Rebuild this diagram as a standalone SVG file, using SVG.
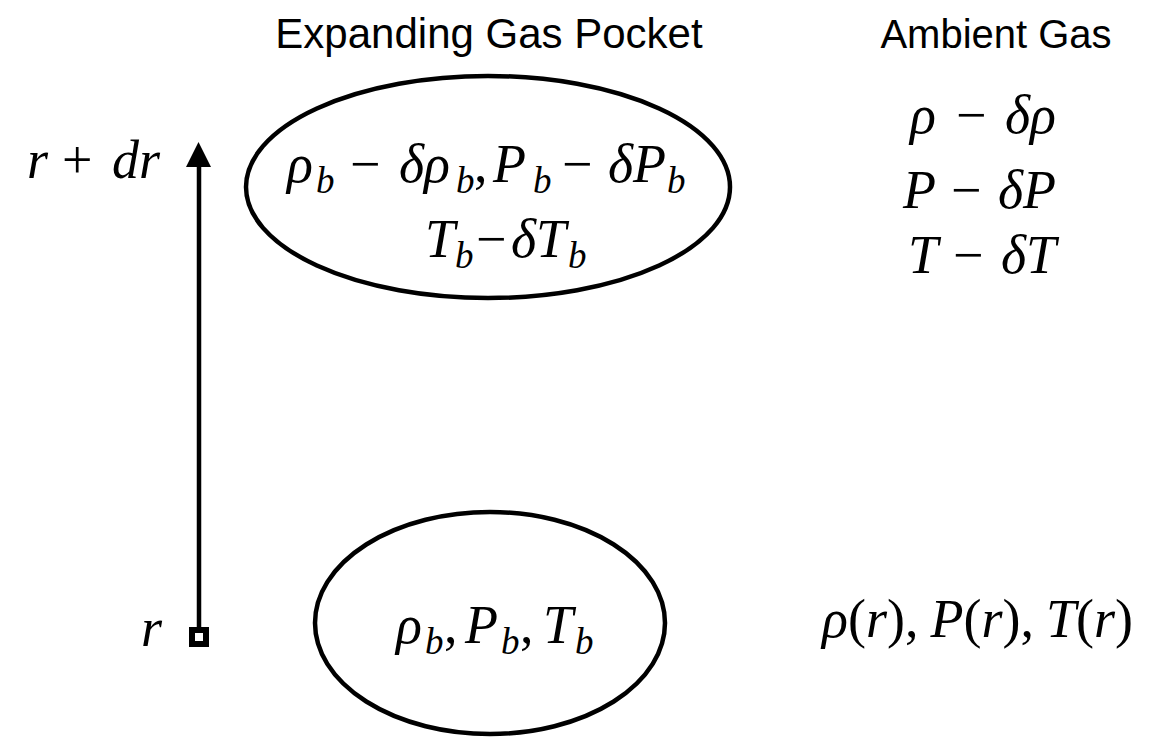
<svg xmlns="http://www.w3.org/2000/svg" width="1174" height="739" viewBox="0 0 1174 739">
  <defs>
    <marker id="arrow" markerUnits="userSpaceOnUse" markerWidth="26" markerHeight="26" refX="0" refY="13" orient="auto" viewBox="0 0 26 26">
      <path d="M0,0 L25,12.5 L0,25 Z" fill="#000"/>
    </marker>
  </defs>
  <rect width="1174" height="739" fill="#fff"/>

  <g id="headers">
    <text x="489" y="48" text-anchor="middle" style="font-family:'Liberation Sans';font-size:42px">Expanding Gas Pocket</text>
    <text x="996" y="48" text-anchor="middle" style="font-family:'Liberation Sans';font-size:40px">Ambient Gas</text>
  </g>

  <g id="connectors">
    <line x1="199" y1="630" x2="199" y2="167" stroke="#000" stroke-width="4.5" marker-end="url(#arrow)"/>
    <rect x="192" y="630" width="14" height="14" fill="#fff" stroke="#000" stroke-width="6"/>
  </g>

  <g id="axis-labels">
    <text x="27" y="178" style="font-family:'Liberation Serif',serif;font-size:54px;font-style:italic">r<tspan x="62" style="font-style:normal">+</tspan><tspan x="112">dr</tspan></text>
    <text x="141" y="646" style="font-family:'Liberation Serif',serif;font-size:54px;font-style:italic">r</text>
  </g>

  <g id="pocket-top">
    <ellipse cx="488" cy="187" rx="242" ry="111" fill="none" stroke="#000" stroke-width="4.5"/>
    <text x="287" y="182" style="font-family:'Liberation Serif',serif;font-size:54px;font-style:italic">ρ<tspan x="316" dy="11" style="font-size:37px">b</tspan><tspan x="350" dy="-11" style="font-style:normal">−</tspan><tspan x="399">δρ</tspan><tspan x="456" dy="11" style="font-size:37px">b</tspan><tspan x="474" dy="-11" style="font-style:normal">,</tspan><tspan x="493">P</tspan><tspan x="533" dy="11" style="font-size:37px">b</tspan><tspan x="562" dy="-11" style="font-style:normal">−</tspan><tspan x="608">δP</tspan><tspan x="667" dy="11" style="font-size:37px">b</tspan></text>
    <text x="425" y="257" style="font-family:'Liberation Serif',serif;font-size:54px;font-style:italic">T<tspan x="455" dy="11" style="font-size:37px">b</tspan><tspan x="476" dy="-11" style="font-style:normal">−</tspan><tspan x="511">δT</tspan><tspan x="568" dy="11" style="font-size:37px">b</tspan></text>
  </g>

  <g id="pocket-bottom">
    <ellipse cx="490" cy="623" rx="175" ry="111" fill="none" stroke="#000" stroke-width="4.5"/>
    <text x="396" y="643" style="font-family:'Liberation Serif',serif;font-size:54px;font-style:italic">ρ<tspan x="425" dy="11" style="font-size:37px">b</tspan><tspan x="444" dy="-11" style="font-style:normal">,</tspan><tspan x="465">P</tspan><tspan x="501" dy="11" style="font-size:37px">b</tspan><tspan x="520" dy="-11" style="font-style:normal">,</tspan><tspan x="543">T</tspan><tspan x="575" dy="11" style="font-size:37px">b</tspan></text>
  </g>

  <g id="ambient-top">
    <text x="910" y="133" style="font-family:'Liberation Serif',serif;font-size:54px;font-style:italic">ρ<tspan x="956" style="font-style:normal">−</tspan><tspan x="1005">δρ</tspan></text>
    <text x="903" y="208" style="font-family:'Liberation Serif',serif;font-size:54px;font-style:italic">P<tspan x="951" style="font-style:normal">−</tspan><tspan x="998">δP</tspan></text>
    <text x="908" y="273" style="font-family:'Liberation Serif',serif;font-size:54px;font-style:italic">T<tspan x="953" style="font-style:normal">−</tspan><tspan x="1001">δT</tspan></text>
  </g>

  <g id="ambient-bottom">
    <text x="822" y="637" style="font-family:'Liberation Serif',serif;font-size:54px;font-style:italic">ρ<tspan style="font-style:normal">(</tspan>r<tspan style="font-style:normal">),</tspan><tspan dx="12">P</tspan><tspan style="font-style:normal">(</tspan>r<tspan style="font-style:normal">),</tspan><tspan dx="12">T</tspan><tspan style="font-style:normal">(</tspan>r<tspan style="font-style:normal">)</tspan></text>
  </g>
</svg>
